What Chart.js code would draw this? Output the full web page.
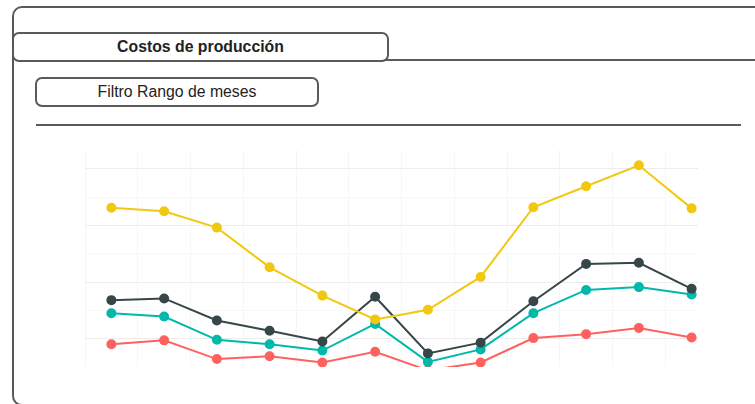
<!DOCTYPE html>
<html>
<head>
<meta charset="utf-8">
<script src="https://cdn.jsdelivr.net/npm/chart.js@4.4.1/dist/chart.umd.min.js"></script>
<style>
  body { margin: 0; width: 755px; height: 404px; overflow: hidden; background: #fff; font-family: "Liberation Sans", Arial, sans-serif; position: relative; }
  .marco { position: absolute; left: 12px; top: 6px; width: 780px; height: 400px; border: 2px solid #5a5a5a; border-radius: 10px; box-sizing: border-box; }
  .pestana { position: absolute; left: 12px; top: 32px; width: 377px; height: 30px; border: 2px solid #5a5a5a; border-radius: 7px; box-sizing: border-box; background: #fff;
             font-weight: bold; font-size: 15.8px; color: #222; text-align: center; line-height: 26px; }
  .linea-tab { position: absolute; left: 380px; top: 59px; width: 400px; height: 2px; background: #5a5a5a; }
  .filtro { position: absolute; left: 35px; top: 77px; width: 284px; height: 30px; border: 2px solid #5a5a5a; border-radius: 7px; box-sizing: border-box;
            font-size: 15.8px; color: #222; text-align: center; line-height: 26px; }
  .separador { position: absolute; left: 36px; top: 124px; width: 705px; height: 2px; background: #5a5a5a; }
  .grafico { position: absolute; left: 85px; top: 150px; width: 633px; height: 217px; }
  .tapa { position: absolute; left: 698px; top: 145px; width: 40px; height: 230px; background: #fff; }
</style>
</head>
<body>
<div class="marco"></div>
<div class="linea-tab"></div>
<div class="pestana">Costos de producción</div>
<div class="filtro">Filtro Rango de meses</div>
<div class="separador"></div>
<div class="grafico"><canvas id="costos"></canvas></div>
<div class="tapa"></div>
<script>
  // meses (sin etiquetas visibles en la maqueta)
  const meses = ['Ene', 'Feb', 'Mar', 'Abr', 'May', 'Jun', 'Jul', 'Ago', 'Sep', 'Oct', 'Nov', 'Dic'];

  // series
  const serieAmarilla = [3.31, 3.25, 2.96, 2.26, 1.76, 1.34, 1.51, 2.09, 3.32, 3.69, 4.06, 3.30];
  const serieGris = [1.68, 1.71, 1.32, 1.14, 0.95, 1.74, 0.74, 0.93, 1.66, 2.32, 2.34, 1.88];
  const serieTurquesa = [1.45, 1.39, 0.98, 0.90, 0.79, 1.26, 0.59, 0.81, 1.45, 1.86, 1.91, 1.78];
  const serieRoja = [0.90, 0.97, 0.64, 0.69, 0.58, 0.77, 0.44, 0.58, 1.01, 1.08, 1.19, 1.02];

  function serie(datos, color) {
    return {
      data: datos,
      borderColor: color,
      backgroundColor: color,
      borderWidth: 2,
      pointRadius: 4,
      pointHoverRadius: 4,
      tension: 0
    };
  }

  const ctx = document.getElementById('costos').getContext('2d');
  new Chart(ctx, {
    type: 'line',
    data: {
      labels: meses,
      datasets: [
        serie(serieAmarilla, '#F2C80F'),
        serie(serieGris, '#374649'),
        serie(serieTurquesa, '#01B8AA'),
        serie(serieRoja, '#FD625E')
      ]
    },
    options: {
      responsive: true,
      maintainAspectRatio: false,
      animation: false,
      layout: { padding: 0, autoPadding: false },
      plugins: { legend: { display: false }, tooltip: { enabled: false } },
      scales: {
        x: {
          offset: true,
          border: { display: false },
          ticks: { display: false },
          grid: { drawTicks: false, offset: true, color: '#f6f6f6' }
        },
        y: {
          min: 0.5,
          max: 4.33,
          border: { display: false },
          ticks: { display: false, stepSize: 0.5 },
          grid: {
            drawTicks: false,
            color: c => {
              const v = c.tick ? c.tick.value : 0;
              if (Math.abs(v - Math.round(v)) < 0.01) return '#ececec';
              if (Math.abs(v * 2 - Math.round(v * 2)) < 0.01) return '#f7f7f7';
              return 'rgba(0,0,0,0)';
            }
          }
        }
      }
    }
  });
</script>
</body>
</html>
